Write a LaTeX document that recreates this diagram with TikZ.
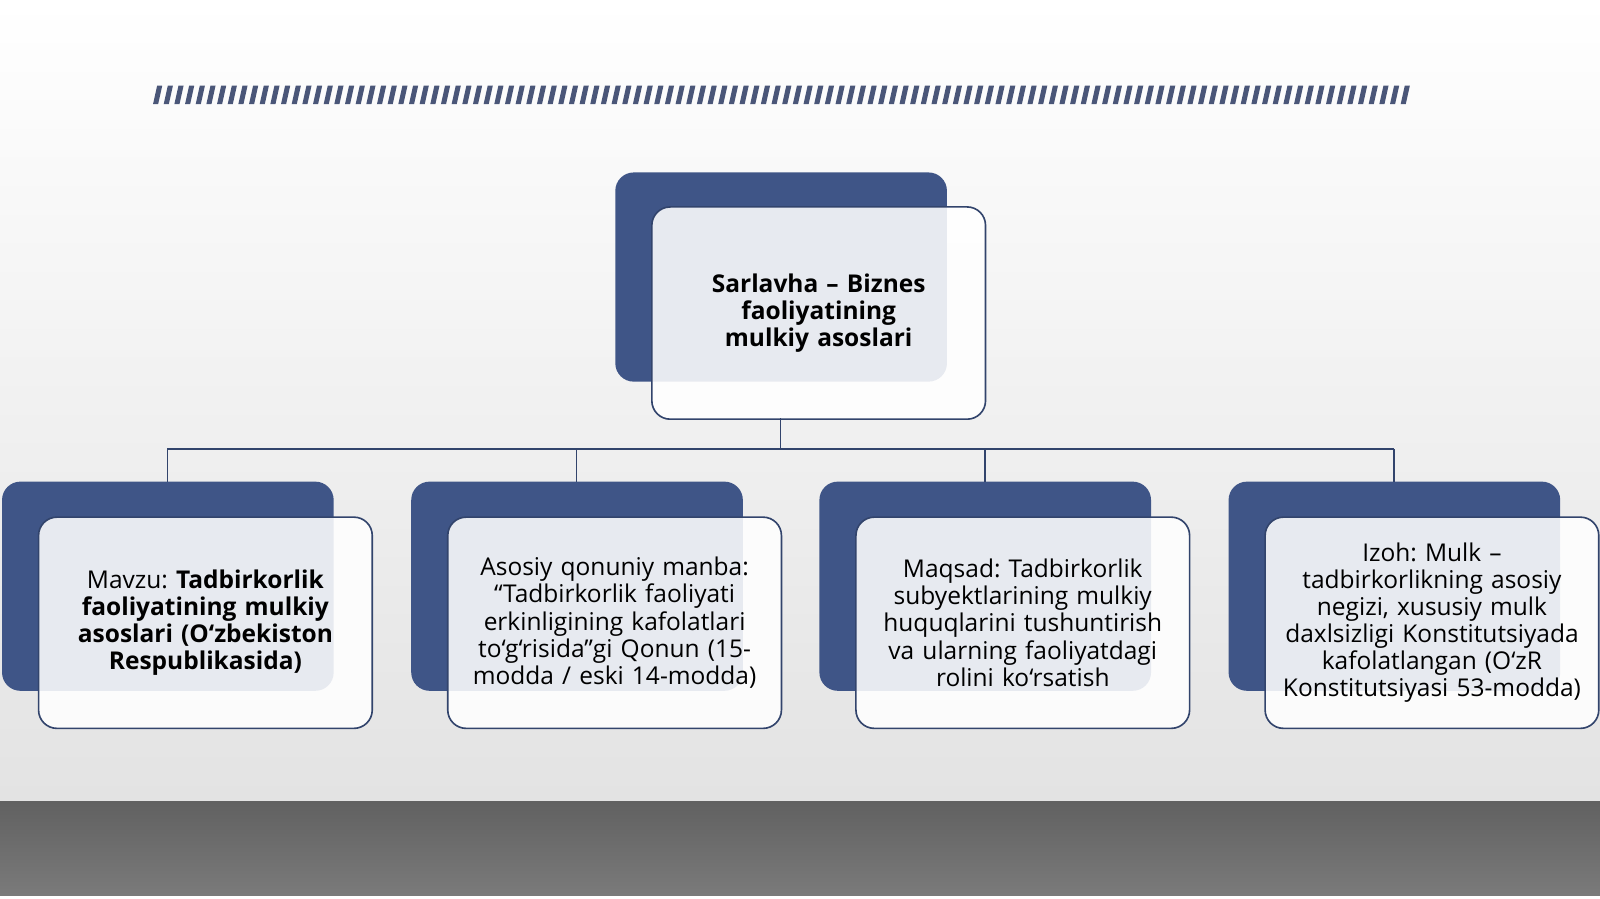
\documentclass[tikz,border=0pt]{standalone}
\usepackage{fontspec}
\setmainfont{Open Sans}
\frenchspacing
\hyphenpenalty=10000
\definecolor{navy}{HTML}{3F5587}
\definecolor{stripe}{HTML}{4A5678}
\begin{document}
\begin{tikzpicture}[x=0.5pt,y=-0.5pt,
  back/.style={fill=navy,rounded corners=9pt},
  front/.style={fill=white,fill opacity=0.88,draw=navy!80!black,line width=0.8pt,rounded corners=9pt},
  txt/.style={align=center,font=\fontsize{12}{13.3}\selectfont,text width=150pt},
  conn/.style={draw=navy!80!black,line width=0.8pt}]
\useasboundingbox (0,0) rectangle (1568,881);
\shade[top color=white,bottom color=gray!22] (0,0) rectangle (1568,785);
\shade[top color=black!62,bottom color=black!52] (0,785) rectangle (1568,878);
\fill[white] (0,878) rectangle (1568,881);
\foreach \i in {0,...,117} {
  \fill[stripe] ({150+10.45*\i},102) -- ({154+10.45*\i},84) -- ({159+10.45*\i},84) -- ({155+10.45*\i},102) -- cycle;
}
% top
\fill[back] (603,169) rectangle (928,374);
\node[front,minimum width=163.5pt,minimum height=104pt,anchor=north west] (top) at (638,202) {};
\node[txt,text width=130pt,font=\fontsize{12}{13.3}\selectfont\bfseries] at (top.center) {Sarlavha – Biznes faoliyatining mulkiy asoslari};
\coordinate (bus) at (765,440);
\draw[conn] (765,410) -- (bus);
\draw[conn] (164,440) -- (1366,440);
\foreach \k/\x in {1/0,2/401,3/801,4/1202} {
  \fill[back] ({2+\x},472) rectangle ({327+\x},677);
  \node[front,minimum width=163.5pt,minimum height=103.5pt,anchor=north west] (b\k) at ({37+\x},506) {};
  \coordinate (d\k) at ({164+\x},440);
  \draw[conn] (d\k) -- ({164+\x},472);
}
\node[txt] at (b1.center) {Mavzu: \textbf{Tadbirkorlik faoliyatining mulkiy asoslari (O‘zbekiston Respublikasida)}};
\node[txt] at (b2.center) {Asosiy qonuniy manba: “Tadbirkorlik faoliyati erkinligining kafolatlari to‘g‘risida”gi Qonun (15-\\modda / eski 14-modda)};
\node[txt] at (b3.center) {Maqsad: Tadbirkorlik subyektlarining mulkiy huquqlarini tushuntirish va ularning faoliyatdagi rolini ko‘rsatish};
\node[txt,text width=156pt] at (b4.center) {Izoh: Mulk –\\ tadbirkorlikning asosiy negizi, xususiy mulk daxlsizligi Konstitutsiyada kafolatlangan (O‘zR Konstitutsiyasi 53-modda)};
\end{tikzpicture}
\end{document}
